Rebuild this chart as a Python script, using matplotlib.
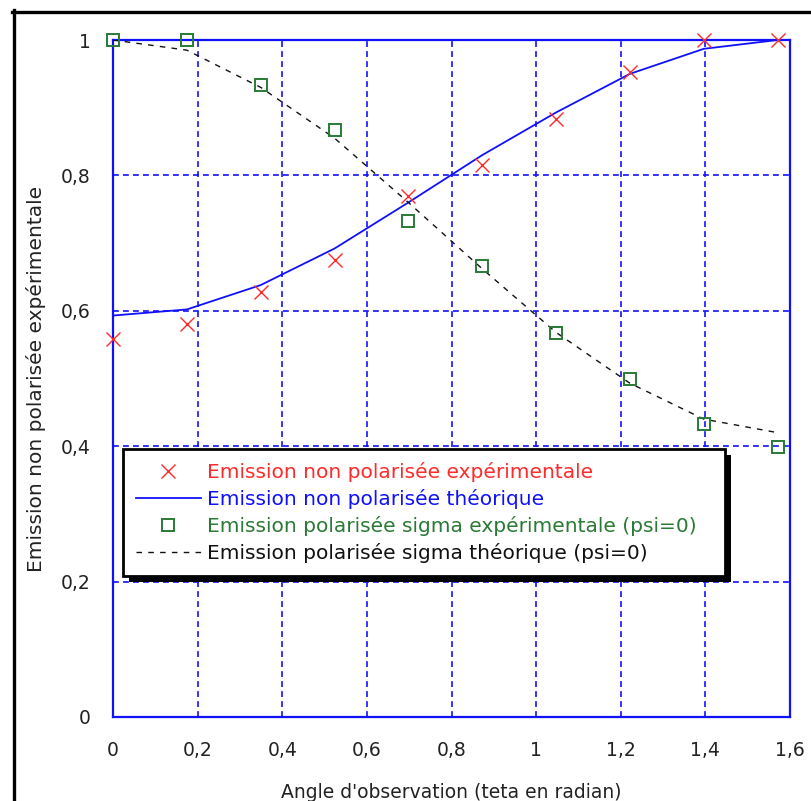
import numpy as np
import matplotlib
matplotlib.use("Agg")
import matplotlib.pyplot as plt
from matplotlib.lines import Line2D
from matplotlib.patches import Rectangle
from matplotlib.transforms import IdentityTransform

plt.rcParams['font.family'] = ['DejaVu Sans']

# ---- data ----
theta = [0.0, 0.1745, 0.3491, 0.5236, 0.6981, 0.8727, 1.0472, 1.2217, 1.3963, 1.5708]
np_exp = [0.558, 0.580, 0.628, 0.675, 0.769, 0.815, 0.884, 0.952, 1.0, 1.0]
np_theo = [0.593, 0.602, 0.638, 0.692, 0.760, 0.830, 0.893, 0.950, 0.987, 1.0]
sig_exp = [1.0, 1.0, 0.934, 0.867, 0.733, 0.666, 0.567, 0.500, 0.433, 0.399]
sig_theo = [1.0, 0.985, 0.930, 0.855, 0.760, 0.662, 0.568, 0.493, 0.440, 0.420]

xticks = [0, 0.2, 0.4, 0.6, 0.8, 1.0, 1.2, 1.4, 1.6]
xticklabels = ['0', '0,2', '0,4', '0,6', '0,8', '1', '1,2', '1,4', '1,6']
yticks = [0, 0.2, 0.4, 0.6, 0.8, 1.0]
yticklabels = ['0', '0,2', '0,4', '0,6', '0,8', '1']

labels = ['Emission non polarisée expérimentale',
          'Emission non polarisée théorique',
          'Emission polarisée sigma expérimentale (psi=0)',
          'Emission polarisée sigma théorique (psi=0)']

RED = '#ff2a2a'
BLUE = '#1010ff'
GREEN = '#2a7a35'
BLACK = '#111111'
TXT = '#222222'

W, H = 811, 801
fig = plt.figure(figsize=(W / 100, H / 100), dpi=100)
fig.patch.set_facecolor('white')
ax = fig.add_axes([113 / W, 1 - 717 / H, (790 - 113) / W, (717 - 40) / H])

ax.plot(theta, np_theo, color=BLUE, lw=1.3, label=labels[1], zorder=3)
ax.plot(theta, sig_theo, color=BLACK, lw=1.0, dashes=(4, 4.5), label=labels[3], zorder=3)
ax.plot(theta, np_exp, ls='none', marker='x', ms=10.5, mew=1.0, color=RED,
        label=labels[0], clip_on=False, zorder=4)
ax.plot(theta, sig_exp, ls='none', marker='s', ms=8, mew=1.4, mfc='none',
        mec=GREEN, color=GREEN, label=labels[2], clip_on=False, zorder=4)

ax.set_xlim(0, 1.6)
ax.set_ylim(0, 1)
ax.set_xticks(xticks)
ax.set_xticklabels(xticklabels)
ax.set_yticks(yticks)
ax.set_yticklabels(yticklabels)
ax.tick_params(axis='both', length=0, labelsize=13.5, colors=TXT)
ax.tick_params(axis='x', pad=17)
ax.tick_params(axis='y', pad=16)
ax.grid(True, color=BLUE, lw=1.2, ls=(0, (3.5, 2.5)))
for s in ax.spines.values():
    s.set_color(BLUE)
    s.set_linewidth(1.6)

ax.set_xlabel("Angle d'observation (teta en radian)", fontsize=13.5, color=TXT, labelpad=17)
ax.set_ylabel("Emission non polarisée expérimentale", fontsize=14.5, color=TXT, labelpad=11)

handles, labs = ax.get_legend_handles_labels()
order = [labs.index(l) for l in labels]
leg = ax.legend([handles[i] for i in order], [labs[i] for i in order],
                loc='upper left', bbox_to_anchor=(0.0148, 0.0, 0.889, 0.396),
                mode='expand', fontsize=14.5, frameon=True, fancybox=False,
                framealpha=1.0, handlelength=3.2, handletextpad=0.3, labelspacing=0.35,
                borderpad=0.65, borderaxespad=0.0)
leg.get_frame().set_edgecolor('black')
leg.get_frame().set_linewidth(2.0)
leg.get_frame().set_facecolor('white')
leg.set_zorder(6)
for t, c in zip(leg.get_texts(), [RED, BLUE, GREEN, BLACK]):
    t.set_color(c)

# outer black frame (top and left)
fig.add_artist(Line2D([12 / W, 1.0], [1 - 11.5 / H, 1 - 11.5 / H], color='black', lw=2.4,
                      transform=fig.transFigure))
fig.add_artist(Line2D([13.5 / W, 13.5 / W], [0.0, 1 - 10 / H], color='black', lw=2.4,
                      transform=fig.transFigure))

# legend shadow
fig.canvas.draw()
bb = leg.get_window_extent()
shadow = Rectangle((bb.x0 + 6, bb.y0 - 6), bb.width, bb.height, transform=IdentityTransform(),
                   facecolor='black', edgecolor='none', zorder=5.5, clip_on=False)
ax.add_artist(shadow)

fig.savefig('out.png', dpi=100)
